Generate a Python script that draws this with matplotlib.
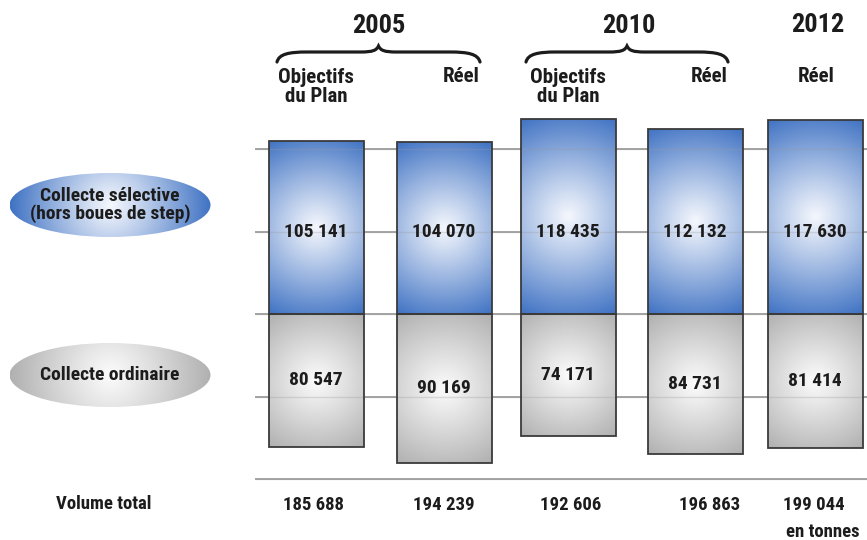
import numpy as np
import matplotlib
matplotlib.use("Agg")
import matplotlib.pyplot as plt
from matplotlib.patches import Rectangle, Ellipse
from matplotlib.path import Path
from matplotlib.patches import PathPatch
from matplotlib.colors import to_rgb

plt.rcParams['font.family'] = ['Roboto Condensed', 'DejaVu Sans Condensed',
                               'Liberation Sans Narrow', 'Liberation Sans', 'DejaVu Sans']
plt.rcParams['font.weight'] = 'bold'

# tonnages par colonne
columns = ["2005 objectifs", "2005 réel", "2010 objectifs", "2010 réel", "2012 réel"]
selective = [105141, 104070, 118435, 112132, 117630]
ordinaire = [80547, 90169, 74171, 84731, 81414]
grid_ticks = [-100000, -50000, 0, 50000, 100000]

W, H = 867, 540
Y0_PX = 314            # ligne de base
PX_PER_T = 1.65 / 1000  # pixels par tonne
centres = [316, 444, 568, 695, 815]
bar_w = 95

BLUE = np.array(to_rgb('#3f72c3'))
BLUE_C = np.array(to_rgb('#f4f7fd'))
GREY = np.array(to_rgb('#b0b0b0'))
GREY_C = np.array(to_rgb('#fbfbfb'))
TXT = '#1c1c1c'


def fmt(v):
    return f"{v:,}".replace(",", " ")


def gradient(axis, extent, w_px, h_px, edge, centre, clip, radius, gamma=1.0, z=2):
    nx, ny = max(int(w_px), 2), max(int(h_px), 2)
    X, Y = np.meshgrid(np.linspace(-w_px / 2, w_px / 2, nx),
                       np.linspace(-h_px / 2, h_px / 2, ny))
    f = np.clip(np.hypot(X, Y) / radius, 0, 1) ** gamma
    img = centre * (1 - f)[..., None] + edge * f[..., None]
    im = axis.imshow(img, extent=extent, origin='lower', aspect='auto',
                     interpolation='bilinear', zorder=z)
    im.set_clip_path(clip)
    return im


fig = plt.figure(figsize=(W / 100, H / 100), dpi=100)
ax = fig.add_axes([0, 0, 1, 1])
ax.axis('off')

ax.hlines(grid_ticks, 255, W, colors='#a4a4a4', lw=1.4, zorder=1)

for xc, s, o in zip(centres, selective, ordinaire):
    x0, x1 = xc - bar_w / 2, xc + bar_w / 2
    for lo, hi, edge, cen in [(0, s, BLUE, BLUE_C), (-o, 0, GREY, GREY_C)]:
        h_px = (hi - lo) * PX_PER_T
        rect = Rectangle((x0, lo), bar_w, hi - lo, transform=ax.transData,
                         facecolor='none', edgecolor='#3a3a3a', lw=1.3, zorder=4)
        gradient(ax, (x0, x1, lo, hi), bar_w, h_px, edge, cen, rect,
                 radius=np.hypot(bar_w / 2, h_px / 2), gamma=1.05)
        ax.add_patch(rect)
    ax.text(xc, 50000, fmt(s), ha='center', va='center', fontsize=14,
            color=TXT, zorder=5)
    ax.text(xc, -o / 2, fmt(o), ha='center', va='center', fontsize=14,
            color=TXT, zorder=5)

# lignes de grille visibles à travers les barres
ax.hlines(grid_ticks, 255, W, colors='#9a9a9a', lw=1.0, alpha=0.3, zorder=3)

ax.set_xlim(0, W)
ax.set_ylim(-(H - Y0_PX) / PX_PER_T, Y0_PX / PX_PER_T)

# décor en coordonnées pixel
deco = fig.add_axes([0, 0, 1, 1], facecolor='none')
deco.set_xlim(0, W)
deco.set_ylim(H, 0)
deco.axis('off')


def brace(x0, x1, y_end=62, y_mid=52, y_tip=46):
    xc = (x0 + x1) / 2
    verts = [(x0, y_end), (x0 + 2, y_mid + 2), (x0 + 12, y_mid), (x0 + 30, y_mid),
             (xc - 18, y_mid),
             (xc - 6, y_mid), (xc - 2, y_mid - 1.5), (xc, y_tip),
             (xc + 2, y_mid - 1.5), (xc + 6, y_mid), (xc + 18, y_mid),
             (x1 - 30, y_mid),
             (x1 - 12, y_mid), (x1 - 2, y_mid + 2), (x1, y_end)]
    codes = [Path.MOVETO, Path.CURVE4, Path.CURVE4, Path.CURVE4,
             Path.LINETO,
             Path.CURVE4, Path.CURVE4, Path.CURVE4,
             Path.CURVE4, Path.CURVE4, Path.CURVE4,
             Path.LINETO,
             Path.CURVE4, Path.CURVE4, Path.CURVE4]
    deco.add_patch(PathPatch(Path(verts, codes), facecolor='none',
                             edgecolor='#1c1c1c', lw=2.3, capstyle='round'))


brace(277, 480)
brace(526, 728)

deco.text(379, 26, "2005", ha='center', va='center', fontsize=19, color=TXT)
deco.text(629, 26, "2010", ha='center', va='center', fontsize=19, color=TXT)
deco.text(818, 25, "2012", ha='center', va='center', fontsize=19, color=TXT)

for xc in (centres[0], centres[2]):
    deco.text(xc, 87, "Objectifs\ndu Plan", ha='center', va='center',
              fontsize=15, color=TXT, linespacing=0.95)
deco.text(480, 76, "Réel", ha='right', va='center', fontsize=15, color=TXT)
deco.text(728, 76, "Réel", ha='right', va='center', fontsize=15, color=TXT)
deco.text(816, 76, "Réel", ha='center', va='center', fontsize=15, color=TXT)

# pastilles de légende
legend_items = [("Collecte sélective\n(hors boues de step)", 205, BLUE, BLUE_C),
                ("Collecte ordinaire", 375, GREY, GREY_C)]
for label, cy, edge, cen in legend_items:
    ew, eh = 201, 64
    ell = Ellipse((110, cy), ew, eh, transform=deco.transData,
                  facecolor='none', edgecolor='none')
    deco.add_patch(ell)
    gradient(deco, (110 - ew / 2, 110 + ew / 2, cy + eh / 2, cy - eh / 2),
             ew, eh, edge, cen, ell, radius=ew / 2, gamma=1.1)
    deco.text(110, cy, label, ha='center', va='center', fontsize=14,
              color=TXT, linespacing=0.95, zorder=5)

deco.set_xlim(0, W)
deco.set_ylim(H, 0)

deco.text(104, 504, "Volume total", ha='center', va='center', fontsize=13.5, color=TXT)
total_x = [313, 444, 571, 710, 814]
for xc, s, o in zip(total_x, selective, ordinaire):
    deco.text(xc, 505, fmt(s + o), ha='center', va='center', fontsize=13.5, color=TXT)
deco.text(823, 532, "en tonnes", ha='center', va='center', fontsize=13.5, color=TXT)

fig.savefig("out.png", dpi=100)
